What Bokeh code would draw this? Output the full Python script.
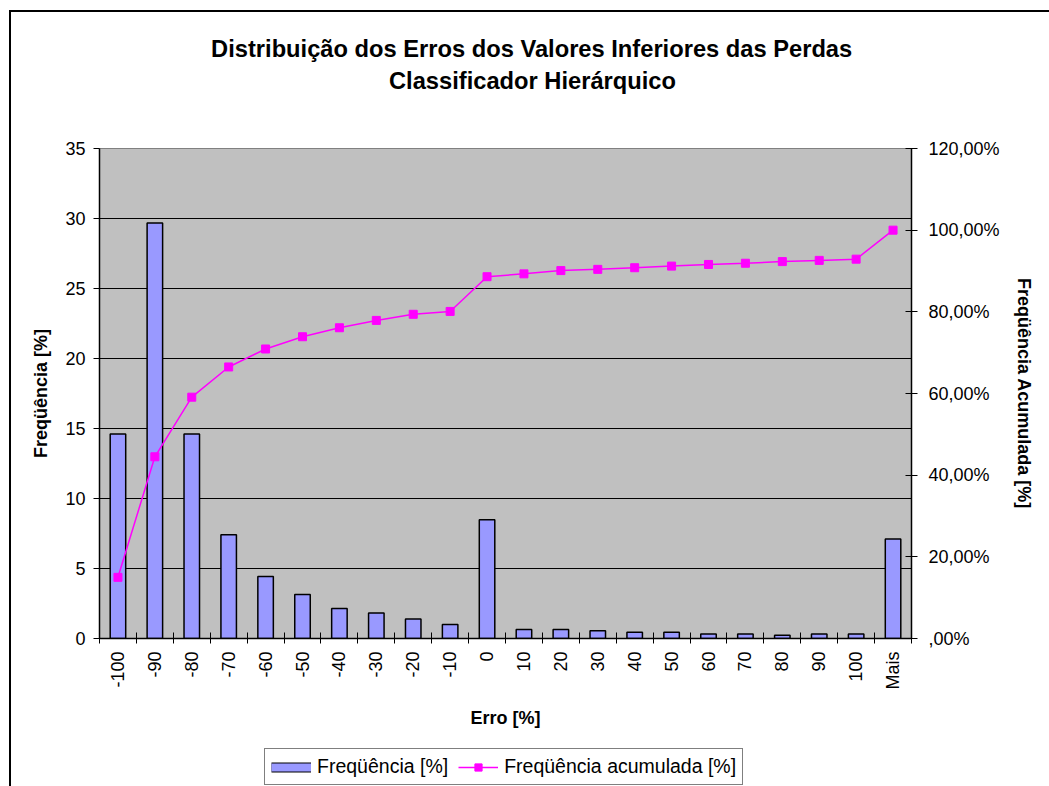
from bokeh.plotting import figure
from bokeh.layouts import column
from bokeh.models import (Range1d, LinearAxis, FixedTicker, CustomJSTickFormatter,
                          Legend, LegendItem, Title)
from bokeh.embed import file_html
from bokeh.resources import INLINE

# ---------------- data ----------------
categories = ["-100", "-90", "-80", "-70", "-60", "-50", "-40", "-30", "-20", "-10",
              "0", "10", "20", "30", "40", "50", "60", "70", "80", "90", "100", "Mais"]
freq = [14.61, 29.67, 14.61, 7.41, 4.42, 3.14, 2.14, 1.83, 1.40, 1.00,
        8.48, 0.64, 0.64, 0.55, 0.45, 0.45, 0.33, 0.33, 0.24, 0.33, 0.33, 7.10]
cum = [14.98, 44.5, 59.1, 66.5, 70.9, 73.9, 76.1, 77.9, 79.4, 80.1,
       88.6, 89.3, 90.1, 90.4, 90.8, 91.2, 91.6, 91.9, 92.3, 92.6, 92.9, 100.0]
left_ticks = [0, 5, 10, 15, 20, 25, 30, 35]
right_ticks = [0, 20, 40, 60, 80, 100, 120]
title_lines = ["Distribuição dos Erros dos Valores Inferiores das Perdas",
               "Classificador Hierárquico"]
series_labels = ["Freqüência [%]", "Freqüência acumulada [%]"]

FONT = "Liberation Sans"
BAR = "#9999FF"
MAG = "#FF00FF"
n = len(categories)
xc = [i + 0.5 for i in range(n)]

# page geometry: outer chart frame (margin 9/10 + 2px border)
OX, OY = 11, 12
W = 1049 - OX
H1 = 745 - OY          # main chart canvas
H2 = 786 - 745         # legend strip

p = figure(width=W, height=H1, x_range=Range1d(0, n), y_range=Range1d(0, 35),
           output_backend="svg", toolbar_location=None,
           min_border_left=99 - OX, min_border_right=(OX + W) - 911,
           min_border_top=148 - OY, min_border_bottom=(OY + H1) - 638,
           background_fill_color="#C0C0C0",
           border_fill_color="white", outline_line_color="#808080")
p.extra_y_ranges = {"cum": Range1d(0, 120)}

# titles (added nearest-first): spacer, line 2, line 1
p.add_layout(Title(text=" ", text_font_size="12px", standoff=37), "above")
p.add_layout(Title(text=title_lines[1], align="left", offset=289.5, text_font=FONT,
                   text_font_size="23.7px", text_font_style="bold",
                   standoff=4, text_color="black"), "above")
p.add_layout(Title(text=title_lines[0], align="left", offset=111.6, text_font=FONT,
                   text_font_size="23.7px", text_font_style="bold",
                   standoff=4, text_color="black"), "above")

# grid
p.xgrid.visible = False
p.ygrid.ticker = FixedTicker(ticks=left_ticks[1:-1])
p.ygrid.grid_line_color = "black"
p.ygrid.grid_line_width = 1

# bars
p.vbar(x=xc, top=freq, width=0.42, bottom=0, fill_color=BAR,
       line_color="black", line_width=1.5)
# cumulative line
p.line(x=xc, y=cum, line_color=MAG, line_width=1.5, y_range_name="cum")
p.scatter(x=xc, y=cum, marker="square", size=8, fill_color=MAG,
          line_color=MAG, y_range_name="cum")

# x axis
xa = p.xaxis[0]
xa.ticker = FixedTicker(ticks=xc, minor_ticks=list(range(n + 1)))
xa.formatter = CustomJSTickFormatter(args=dict(labels=categories),
                                     code="return labels[Math.floor(tick)] || '';")
xa.major_tick_line_color = None
xa.major_tick_in = 0
xa.major_tick_out = 5
xa.minor_tick_in = 6
xa.minor_tick_out = 5
xa.minor_tick_line_color = "black"
xa.major_label_orientation = 3.14159265 / 2
xa.major_label_standoff = 8
xa.major_label_text_font = FONT
xa.major_label_text_font_size = "18px"
xa.major_label_text_color = "black"
xa.axis_line_color = "black"
xa.axis_line_width = 1.5
xa.axis_label = "Erro [%]"
xa.axis_label_text_font = FONT
xa.axis_label_text_font_size = "18px"
xa.axis_label_text_font_style = "bold"
xa.axis_label_text_color = "black"
xa.axis_label_standoff = 15

# left y axis
ya = p.yaxis[0]
ya.ticker = FixedTicker(ticks=left_ticks)
ya.minor_tick_line_color = None
ya.major_tick_in = 0
ya.major_tick_out = 6
ya.major_tick_line_color = "black"
ya.major_label_standoff = 8
ya.major_label_text_font = FONT
ya.major_label_text_font_size = "18px"
ya.major_label_text_color = "black"
ya.axis_line_color = "black"
ya.axis_line_width = 1.5
ya.axis_label = "Freqüência [%]"
ya.axis_label_text_font = FONT
ya.axis_label_text_font_size = "18px"
ya.axis_label_text_font_style = "bold"
ya.axis_label_text_color = "black"
ya.axis_label_standoff = 11

# right y axis
ra = LinearAxis(y_range_name="cum", ticker=FixedTicker(ticks=right_ticks),
                formatter=CustomJSTickFormatter(code="""
                    if (tick == 0) { return ',00%'; }
                    return tick.toFixed(2).replace('.', ',') + '%';
                """))
ra.minor_tick_line_color = None
ra.major_tick_in = 6
ra.major_tick_out = 6
ra.major_tick_line_color = "black"
ra.major_label_standoff = 11
ra.major_label_text_font = FONT
ra.major_label_text_font_size = "18px"
ra.major_label_text_color = "black"
ra.axis_line_color = "black"
ra.axis_line_width = 1.5
ra.axis_label = "Freqüência Acumulada [%]"
ra.axis_label_text_font = FONT
ra.axis_label_text_font_size = "18px"
ra.axis_label_text_font_style = "bold"
ra.axis_label_text_color = "black"
ra.axis_label_standoff = 11
p.add_layout(ra, "right")

# ---------------- legend strip ----------------
pl = figure(width=W, height=H2, x_range=Range1d(0, n), y_range=Range1d(0, 35),
            output_backend="svg", toolbar_location=None,
            x_axis_location=None, y_axis_location=None,
            min_border_left=0, min_border_right=0, min_border_top=0,
            min_border_bottom=0, outline_line_color=None,
            background_fill_color="white", border_fill_color="white")
pl.xgrid.visible = False
pl.ygrid.visible = False
pl.extra_y_ranges = {"cum": Range1d(0, 120)}
# legend-only glyphs (hidden): flat bar patch and marked line
lb = pl.line(x=xc, y=freq, line_color="black", line_width=10, visible=False)
lf = pl.line(x=xc, y=freq, line_color=BAR, line_width=8, visible=False)
ln = pl.line(x=xc, y=cum, line_color=MAG, line_width=1.5, y_range_name="cum",
             visible=False)
sc = pl.scatter(x=xc, y=cum, marker="square", size=8, fill_color=MAG,
                line_color=MAG, y_range_name="cum", visible=False)

legend = Legend(items=[LegendItem(label=series_labels[0], renderers=[lb, lf]),
                       LegendItem(label=series_labels[1], renderers=[ln, sc])],
                location=(165, 1), orientation="horizontal",
                label_text_font=FONT, label_text_font_size="19.5px",
                label_text_color="black", glyph_width=40, glyph_height=18,
                label_standoff=6, spacing=10, padding=6, margin=0,
                border_line_color="black", border_line_width=1.5,
                background_fill_color="white", background_fill_alpha=1,
                inactive_fill_alpha=0)
pl.add_layout(legend, "center")

layout = column(p, pl, spacing=0,
                styles={"margin-left": "9px", "margin-top": "10px",
                        "border-left": "2px solid black",
                        "border-top": "2px solid black"})

open("out.html", "w").write(file_html(layout, INLINE))
